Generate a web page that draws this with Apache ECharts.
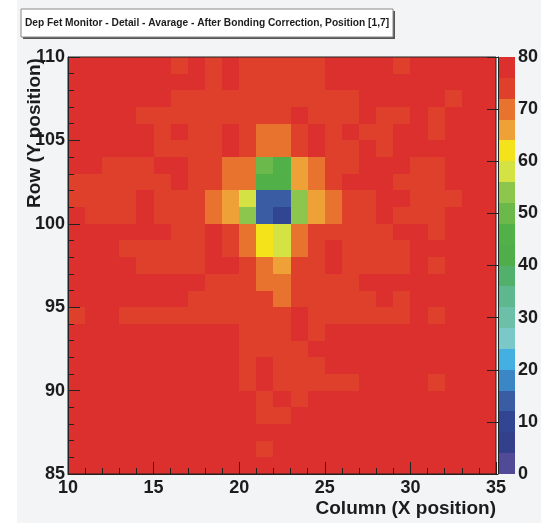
<!DOCTYPE html>
<html><head><meta charset="utf-8">
<script src="https://cdn.jsdelivr.net/npm/echarts@6/dist/echarts.min.js"></script>
<style>html,body{margin:0;padding:0;background:#fff}#c{width:541px;height:523px}</style>
</head><body><div id="c"></div>
<script>
// ---- data ----
const titleText = 'Dep Fet Monitor - Detail - Avarage - After Bonding Correction, Position [1,7]';
const xTitle = 'Column (X position)';
const yTitle = 'Row (Y position)';
const xColumns = [10,11,12,13,14,15,16,17,18,19,20,21,22,23,24,25,26,27,28,29,30,31,32,33,34];
const xTicks = [10,15,20,25,30,35];
const yTicks = [85,90,95,100,105,110];
const zTicks = [0,10,20,30,40,50,60,70,80];
const zBands = [0,4,8,12,16,20,24,28,32,36,40,44,48,52,56,60,64,68,72,76];

// rows of cell values, one array per Y row (cell spans [y, y+1])
const y109 = [78,78,78,78,78,78,74,78,74,78,74,74,74,74,74,78,78,78,78,74,78,78,78,78,78];
const y108 = [78,78,78,78,78,78,78,78,74,78,74,74,74,74,74,78,78,78,78,78,78,78,78,78,78];
const y107 = [78,78,78,78,78,78,74,74,74,74,74,74,74,74,74,74,74,78,78,78,78,78,74,78,78];
const y106 = [78,78,78,78,74,74,74,74,74,74,74,74,74,78,74,74,74,78,74,74,78,74,78,78,78];
const y105 = [78,78,78,78,78,74,78,74,74,78,74,70,70,74,78,74,78,74,74,78,78,74,78,78,78];
const y104 = [78,78,78,78,78,74,74,74,74,78,74,70,70,74,78,74,74,78,74,78,78,78,78,78,78];
const y103 = [78,78,74,74,74,78,78,74,74,70,70,50,46,66,70,74,74,78,78,78,74,74,78,78,78];
const y102 = [74,74,74,74,74,74,78,74,74,70,70,46,46,66,70,74,78,78,78,74,74,74,78,78,78];
const y101 = [74,74,74,74,78,74,74,74,70,66,58,14,14,54,66,70,74,74,78,78,74,74,74,78,78];
const y100 = [78,74,74,74,78,74,74,74,70,66,54,14,10,54,66,70,74,74,78,74,74,74,78,78,78];
const y99  = [78,78,78,78,78,78,74,74,78,74,70,62,58,70,74,74,74,74,74,78,78,74,78,78,78];
const y98  = [78,78,78,74,74,74,74,74,78,74,70,62,58,70,74,78,74,74,74,74,78,78,78,78,78];
const y97  = [78,78,78,78,74,74,74,74,78,78,74,70,66,74,74,78,74,74,74,74,78,74,78,78,78];
const y96  = [78,78,78,78,78,78,78,78,74,74,74,70,70,74,74,74,74,78,78,78,78,78,78,78,78];
const y95  = [78,78,78,78,78,78,78,74,74,74,74,74,70,74,74,74,74,74,78,74,78,78,78,78,78];
const y94  = [74,78,78,74,74,74,74,74,74,74,74,74,74,78,74,74,74,74,74,74,78,74,78,78,78];
const y93  = [78,78,78,78,78,78,78,78,78,78,74,74,74,78,74,78,78,78,78,78,78,78,78,78,78];
const y92  = [78,78,78,78,78,78,78,78,78,78,74,74,74,74,78,78,78,78,78,78,78,78,78,78,78];
const y91  = [78,78,78,78,78,78,78,78,78,78,74,78,74,74,74,78,78,78,78,78,78,78,78,78,78];
const y90  = [78,78,78,78,78,78,78,78,78,78,74,78,74,74,74,74,74,78,78,78,78,74,78,78,78];
const y89  = [78,78,78,78,78,78,78,78,78,78,78,74,78,74,78,78,78,78,78,78,78,78,78,78,78];
const y88  = [78,78,78,78,78,78,78,78,78,78,78,74,74,78,78,78,78,78,78,78,78,78,78,78,78];
const y87  = [78,78,78,78,78,78,78,78,78,78,78,78,78,78,78,78,78,78,78,78,78,78,78,78,78];
const y86  = [78,78,78,78,78,78,78,78,78,78,78,74,78,78,78,78,78,78,78,78,78,78,78,78,78];
const y85  = [78,78,78,78,78,78,78,78,78,78,78,78,78,78,78,78,78,78,78,78,78,78,78,78,78];
const rowYs = [109,108,107,106,105,104,103,102,101,100,99,98,97,96,95,94,93,92,91,90,89,88,87,86,85];
const rowValues = [y109,y108,y107,y106,y105,y104,y103,y102,y101,y100,y99,y98,y97,y96,y95,y94,y93,y92,y91,y90,y89,y88,y87,y86,y85];

// ---- style ----
const palette = ['#514a96','#33418c','#324593','#3a5ca2','#3b87c6','#43b0e1','#7bc8c8','#6dc0a8','#5eb88f','#50b06c',
                 '#4fae4a','#52b048','#6cb94b','#8cc64d','#d4e244','#f4e21a','#eea136','#e8732f','#df402c','#dc302e'];
const FONT = 'Liberation Sans';
const INK = '#1c1c1c';

const cells = [];
rowValues.forEach((row, i) => row.forEach((v, j) => cells.push([xColumns[j], rowYs[i], v])));
const bandData = zBands.map(b => [0, b, b + 2]);

function rectItem(params, api, x0, y0, x1, y1) {
  const a = api.coord([x0, y0]);
  const b = api.coord([x1, y1]);
  const L = Math.round(Math.min(a[0], b[0])), R = Math.round(Math.max(a[0], b[0]));
  const T = Math.round(Math.min(a[1], b[1])), B = Math.round(Math.max(a[1], b[1]));
  return {type: 'rect', shape: {x: L, y: T, width: R - L, height: B - T},
          style: {fill: api.visual('color')}};
}

const labelStyle = {fontFamily: FONT, fontWeight: 'bold', fontSize: 18, color: INK};
const tickLine = {color: '#222', width: 1};

const chart = echarts.init(document.getElementById('c'), null, {renderer: 'canvas'});
chart.setOption({
  animation: false,
  backgroundColor: '#f3f4f6',
  textStyle: {fontFamily: FONT},
  grid: [
    {left: 68, top: 57, width: 428, height: 417},
    {left: 498, top: 57, width: 22, height: 417}
  ],
  xAxis: [
    {gridIndex: 0, type: 'value', min: xTicks[0], max: xTicks[xTicks.length - 1], interval: 5, z: 10,
     axisLine: {show: true, lineStyle: tickLine},
     axisTick: {show: true, inside: true, length: 12, lineStyle: tickLine},
     minorTick: {show: true, splitNumber: 5, length: 6, lineStyle: tickLine},
     splitLine: {show: false},
     axisLabel: Object.assign({margin: 5, showMinLabel: true, showMaxLabel: true, hideOverlap: false}, labelStyle)},
    {gridIndex: 1, type: 'value', min: 0, max: 1, show: false}
  ],
  yAxis: [
    {gridIndex: 0, type: 'value', min: yTicks[0], max: yTicks[yTicks.length - 1], interval: 5, z: 10,
     axisLine: {show: true, lineStyle: tickLine},
     axisTick: {show: true, inside: true, length: 12, lineStyle: tickLine},
     minorTick: {show: true, splitNumber: 5, length: 6, lineStyle: tickLine},
     splitLine: {show: false},
     axisLabel: Object.assign({margin: 3, showMinLabel: true, showMaxLabel: true, hideOverlap: false}, labelStyle)},
    {gridIndex: 1, type: 'value', position: 'right', min: zTicks[0], max: zTicks[zTicks.length - 1], interval: 10, z: 10,
     axisLine: {show: true, lineStyle: tickLine},
     axisTick: {show: true, inside: true, length: 11, lineStyle: tickLine},
     splitLine: {show: false},
     axisLabel: Object.assign({margin: 3, showMinLabel: true, showMaxLabel: true, hideOverlap: false}, labelStyle)}
  ],
  visualMap: {
    type: 'piecewise', show: false, dimension: 2, seriesIndex: [0, 1],
    pieces: zBands.map((b, i) => i === zBands.length - 1 ? {gte: b, lte: b + 4, color: palette[i]} : {gte: b, lt: b + 4, color: palette[i]})
  },
  series: [
    {type: 'custom', xAxisIndex: 0, yAxisIndex: 0, data: cells, encode: {x: 0, y: 1},
     renderItem: (params, api) => rectItem(params, api, api.value(0), api.value(1), api.value(0) + 1, api.value(1) + 1)},
    {type: 'custom', xAxisIndex: 1, yAxisIndex: 1, data: bandData, encode: {x: 0, y: 1},
     renderItem: (params, api) => rectItem(params, api, 0, api.value(1), 1, api.value(1) + 4)}
  ],
  graphic: [
    {type: 'rect', left: 0, top: 0, shape: {width: 17, height: 523}, style: {fill: '#ffffff'}, z: -5, silent: true},
    {type: 'rect', shape: {x: 68, y: 57, width: 428, height: 417}, style: {fill: 'none', stroke: '#222', lineWidth: 1}, z: 100, silent: true},
    {type: 'rect', shape: {x: 23, y: 11, width: 372, height: 28}, style: {fill: '#555'}, z: 100, silent: true},
    {type: 'rect', shape: {x: 21, y: 9, width: 372, height: 28}, style: {fill: '#ffffff', stroke: '#8a8a8a', lineWidth: 1}, z: 101, silent: true},
    {type: 'text', x: 207, y: 23.5, z: 102, silent: true,
     style: {text: titleText, fontFamily: FONT, fontWeight: 'bold', fontSize: 10.2, fill: INK, textAlign: 'center', textVerticalAlign: 'middle'}},
    {type: 'text', x: 496, y: 509, z: 102, silent: true,
     style: {text: xTitle, fontFamily: FONT, fontWeight: 'bold', fontSize: 19, fill: INK, textAlign: 'right', textVerticalAlign: 'middle'}},
    {type: 'text', x: 35, y: 133, rotation: Math.PI / 2, z: 102, silent: true,
     style: {text: yTitle, fontFamily: FONT, fontWeight: 'bold', fontSize: 19, fill: INK, textAlign: 'center', textVerticalAlign: 'middle'}}
  ]
});
</script>
</body></html>
